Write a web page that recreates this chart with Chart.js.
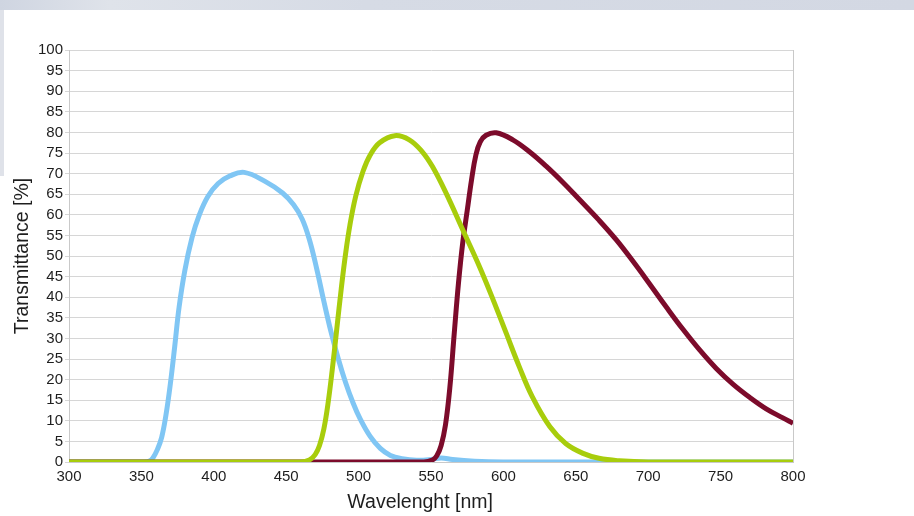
<!DOCTYPE html>
<html>
<head>
<meta charset="utf-8">
<script src="https://cdn.jsdelivr.net/npm/chart.js@4"></script>
<style>
  html, body { margin: 0; padding: 0; background: #ffffff; }
  #wrap { position: relative; width: 914px; height: 516px; overflow: hidden; background: #ffffff; }
  #topbar { position: absolute; left: 0; top: 0; width: 914px; height: 10px;
            background: linear-gradient(90deg, #cfd5e1 0%, #dfe3ea 12%, #d6dbe5 40%, #d3d8e3 100%); }
  #leftbar { position: absolute; left: 0; top: 10px; width: 4px; height: 166px; background: #dfe2e9; }
  #box { position: absolute; left: 0; top: 0; width: 914px; height: 516px; }
</style>
</head>
<body>
<div id="wrap">
  <div id="topbar"></div>
  <div id="leftbar"></div>
  <div id="box"><canvas id="c"></canvas></div>
</div>
<script>
// ---- data ----
const xTicks = [300, 350, 400, 450, 500, 550, 600, 650, 700, 750, 800];
const yTicks = [0,5,10,15,20,25,30,35,40,45,50,55,60,65,70,75,80,85,90,95,100];

const blueNm = [300, 340, 352, 356, 358, 361, 364, 367, 370, 373, 376, 380, 385, 390, 396, 403, 411, 421, 436, 447.5, 455, 461, 466, 471, 476, 481, 486, 491, 496, 501, 508, 515, 522, 530, 540, 550, 557, 565, 580, 600, 650, 700, 750, 800];
const blueT  = [0, 0, 0, 0.3, 1, 3, 6, 11.5, 19, 28, 37.5, 46.5, 54.5, 60, 64.5, 67.6, 69.4, 70.3, 68, 65.3, 62.5, 59, 54, 47, 39, 31.5, 25, 19.3, 14.5, 10.5, 6.2, 3.3, 1.6, 0.8, 0.4, 0.6, 1.0, 0.6, 0.2, 0, 0, 0, 0, 0];

const greenNm = [300, 460, 466, 470, 473, 476, 479, 482, 485, 488, 491, 494, 498, 503, 508, 514.5, 525, 535, 544, 551, 560.5, 572, 583.5, 593, 602, 611, 620, 632, 643, 655, 666, 680, 700, 800];
const greenT  = [0, 0, 0.5, 1.8, 4, 8, 14.5, 23, 32.5, 42, 50.5, 57.5, 64.5, 70.5, 74.5, 77.5, 79.2, 78.2, 75.3, 71.7, 65.2, 56.3, 47.4, 39.3, 31.2, 23.1, 15.8, 8.6, 4.5, 2.1, 0.9, 0.3, 0, 0];

const redNm = [300, 545, 551, 554, 557, 560, 563, 566, 569, 572, 575, 578, 581, 584, 588, 595, 606.5, 618, 629.5, 641, 652.5, 666, 678, 689.5, 701, 712.5, 724, 735.5, 747, 758.5, 770, 781.5, 793, 800];
const redT  = [0, 0, 0.5, 1.5, 4, 9, 18, 31, 43.5, 53.5, 61, 68.5, 74.5, 77.7, 79.3, 79.9, 78.2, 75.3, 71.8, 67.9, 63.7, 58.7, 53.9, 48.7, 43.2, 37.6, 32.2, 27.2, 22.7, 18.9, 15.7, 12.9, 10.7, 9.4];

const seriesNames = ['Green', 'Red', 'Blue'];
// --------------------------------------

function pts(xs, ys) { return xs.map((x, i) => ({ x: x, y: ys[i] })); }

const lineStyle = { pointRadius: 0, borderWidth: 5, tension: 0.4,
                    borderJoinStyle: 'round', borderCapStyle: 'butt', fill: false };

new Chart(document.getElementById('c'), {
  type: 'line',
  data: {
    datasets: [
      Object.assign({ label: seriesNames[0], data: pts(greenNm, greenT), borderColor: '#a8cd0c' }, lineStyle),
      Object.assign({ label: seriesNames[1], data: pts(redNm, redT), borderColor: '#7c0b2b' }, lineStyle),
      Object.assign({ label: seriesNames[2], data: pts(blueNm, blueT), borderColor: '#80c6f4' }, lineStyle)
    ]
  },
  options: {
    responsive: true,
    maintainAspectRatio: false,
    animation: false,
    layout: { padding: { top: 50, right: 121, bottom: 0, left: 0 } },
    plugins: { legend: { display: false }, tooltip: { enabled: false } },
    scales: {
      x: {
        type: 'linear',
        min: 300, max: 800,
        afterBuildTicks: (s) => { s.ticks = xTicks.map(v => ({ value: v })); },
        afterFit: (s) => { s.height = 54; },
        grid: {
          drawTicks: false,
          color: (ctx) => (ctx.tick && (ctx.tick.value === 300 || ctx.tick.value === 800)) ? '#c9c9c9' : 'rgba(0,0,0,0)',
          lineWidth: 1
        },
        border: { display: true, color: '#c9c9c9', width: 1 },
        ticks: { padding: 6, color: '#1e1e1e', maxRotation: 0, autoSkip: false,
                 font: { family: '"Liberation Sans", Arial, sans-serif', size: 15 } },
        title: { display: true, text: 'Wavelenght [nm]    ', color: '#1e1e1e',
                 font: { family: '"Liberation Sans", Arial, sans-serif', size: 19.5 },
                 padding: { top: 0, bottom: 1.3 } }
      },
      y: {
        min: 0, max: 100,
        afterBuildTicks: (s) => { s.ticks = yTicks.map(v => ({ value: v })); },
        afterFit: (s) => { s.width = 69; },
        grid: { color: '#d6d6d6', lineWidth: 1, drawTicks: true, tickLength: 4 },
        border: { display: true, color: '#c9c9c9', width: 1 },
        ticks: { padding: 2, color: '#1e1e1e', autoSkip: false,
                 font: { family: '"Liberation Sans", Arial, sans-serif', size: 15 } },
        title: { display: true, text: 'Transmittance [%]', color: '#1e1e1e',
                 font: { family: '"Liberation Sans", Arial, sans-serif', size: 19.5 },
                 padding: { top: 11.3, bottom: 0 } }
      }
    }
  }
});
</script>
</body>
</html>
